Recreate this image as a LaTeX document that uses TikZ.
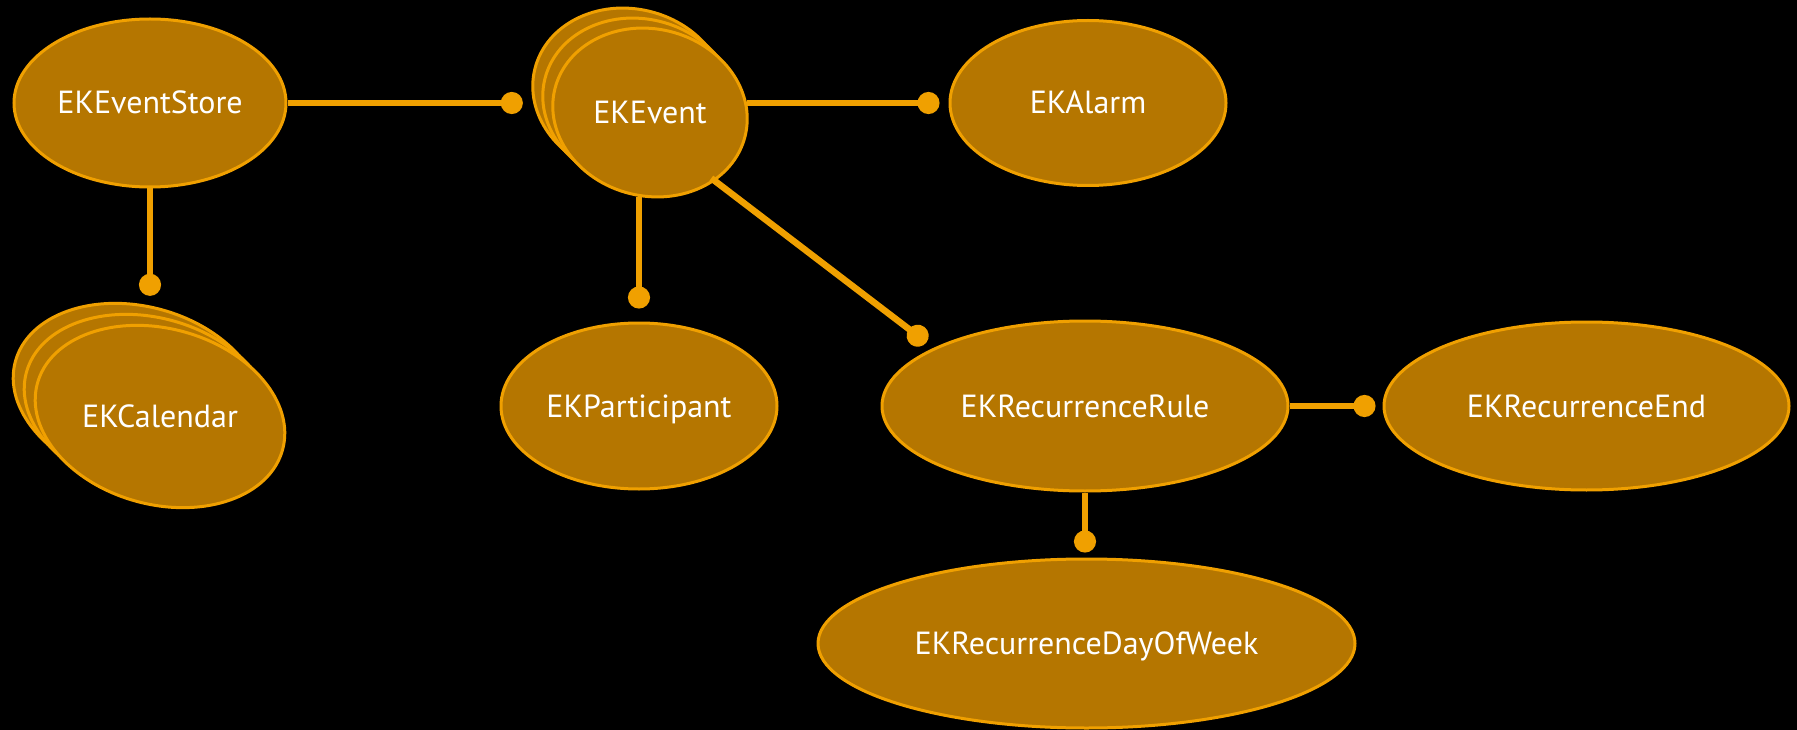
\documentclass[tikz,border=0pt]{standalone}
\usepackage{fontspec}
\setmainfont{PT Sans}
\usetikzlibrary{shapes.geometric,arrows.meta,calc}
\definecolor{ekfill}{RGB}{181,118,0}
\definecolor{ekline}{RGB}{240,160,0}
\begin{document}
\begin{tikzpicture}[x=1pt,y=-1pt,
  eklabel/.style={text=white,font=\fontsize{32}{36}\selectfont,text height=22pt,text depth=0pt},
  ek/.style={ellipse,draw=ekline,fill=ekfill,line width=3pt,inner sep=0pt,eklabel},
  ektext/.style={ellipse,inner sep=0pt,eklabel},
  stackshape/.style={draw=ekline,fill=ekfill,line width=3pt},
  conn/.style={draw=ekline,line width=6.5pt,-{Circle[length=22pt,width=22pt]}}]
\fill[black] (0,0) rectangle (1797,730);
\useasboundingbox (0,0) rectangle (1797,730);

% EKEvent stack
\foreach \k in {2,1,0}{
  \draw[stackshape,shift={(650-10*\k,112.5-10*\k)},rotate=-14] (0,0) ellipse [x radius=98,y radius=83.5];
}
% EKCalendar stack
\foreach \k in {2,1,0}{
  \draw[stackshape,shift={(160-11*\k,416.5-11*\k)},rotate=-15] (0,0) ellipse [x radius=127,y radius=88];
}

\node[ek,minimum width=272pt,minimum height=168pt] (store) at (150,103) {EKEventStore};
\node[ektext,minimum width=194pt,minimum height=169pt] (event) at (650,112.5) {EKEvent};
\node[ek,minimum width=276pt,minimum height=165pt] (alarm) at (1088,103) {EKAlarm};
\node[ektext,minimum width=250pt,minimum height=183pt] (calendar) at (160,416.5) {EKCalendar};
\node[ek,minimum width=276pt,minimum height=166pt] (participant) at (639,406) {EKParticipant};
\node[ek,minimum width=406pt,minimum height=170pt] (rule) at (1085,406) {EKRecurrenceRule};
\node[ek,minimum width=405pt,minimum height=168pt] (end) at (1586.5,406) {EKRecurrenceEnd};
\node[ek,minimum width=537pt,minimum height=169pt] (dow) at (1086.5,643.5) {EKRecurrenceDayOfWeek};

\draw[conn,shorten >=30pt] (store.east) -- (store.east -| event.west);
\draw[conn,shorten >=29pt] (store.south) -- (store.south |- calendar.north);
\draw[conn,shorten >=9pt] (alarm.west -| event.east) -- (alarm.west);
\draw[conn,shorten >=13pt] (event.south -| participant.north) -- (participant.north);
\draw[conn,shorten >=9pt] (event.-47) -- (rule.159);
\draw[conn,shorten >=7pt] (rule.east) -- (end.west);
\draw[conn,shorten >=5pt] (rule.south) -- (rule.south |- dow.north);
\end{tikzpicture}
\end{document}
